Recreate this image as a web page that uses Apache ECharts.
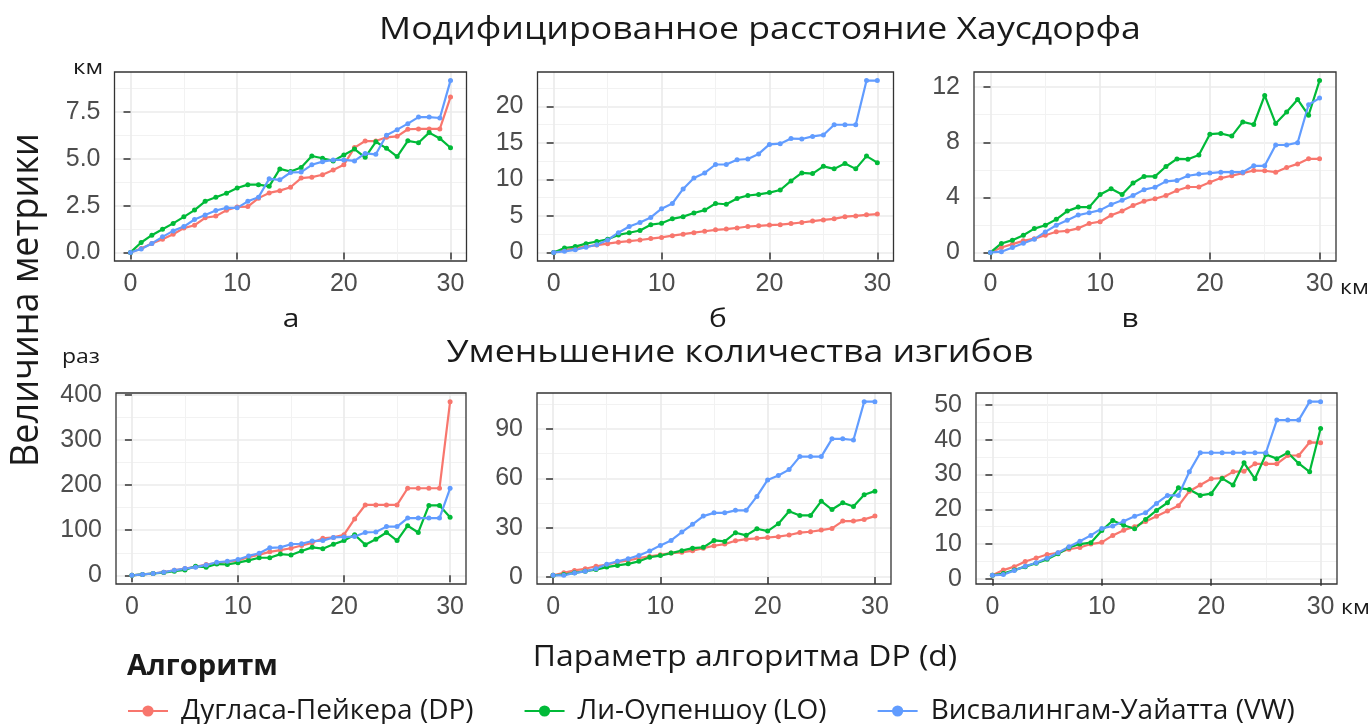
<!DOCTYPE html>
<html><head><meta charset="utf-8">
<script src="https://cdn.jsdelivr.net/npm/echarts@6/dist/echarts.min.js"></script>
<style>html,body{margin:0;padding:0;background:#fff}#c{width:1372px;height:724px}</style>
</head><body><div id="c"></div>
<script>
const xValues = [0,1,2,3,4,5,6,7,8,9,10,11,12,13,14,15,16,17,18,19,20,21,22,23,24,25,26,27,28,29,30];
const seriesNames = ['Дугласа-Пейкера (DP)', 'Ли-Оупеншоу (LO)', 'Висвалингам-Уайатта (VW)'];
const xTicks = [0, 10, 20, 30];

// Panel а — модифицированное расстояние Хаусдорфа, км
const aDP = [0,0.21,0.48,0.7,0.97,1.3,1.45,1.85,1.94,2.25,2.43,2.45,2.9,3.18,3.3,3.48,3.97,4.02,4.15,4.4,4.68,5.6,5.95,5.95,6.15,6.2,6.58,6.6,6.6,6.6,8.3];
const aLO = [0,0.53,0.92,1.24,1.55,1.9,2.26,2.73,2.95,3.16,3.44,3.62,3.62,3.53,4.46,4.32,4.54,5.15,5.03,4.89,5.2,5.52,5.08,5.91,5.56,5.12,5.96,5.86,6.4,6.09,5.59];
const aVW = [0,0.18,0.48,0.83,1.15,1.38,1.76,2.0,2.24,2.38,2.38,2.73,2.95,3.93,3.88,4.27,4.29,4.68,4.85,4.94,4.94,4.89,5.29,5.24,6.26,6.56,6.88,7.23,7.23,7.18,9.18];
const aTicks = [0, 2.5, 5, 7.5];
// Panel б
const bDP = [0,0.3,0.55,0.8,1.0,1.2,1.4,1.55,1.7,1.9,2.05,2.3,2.5,2.7,2.9,3.1,3.2,3.35,3.55,3.65,3.75,3.8,3.95,4.1,4.3,4.45,4.6,4.9,5.0,5.15,5.25];
const bLO = [0,0.6,0.8,1.2,1.5,1.8,2.4,2.7,3.0,3.8,4.0,4.6,4.9,5.4,5.8,6.7,6.6,7.4,7.8,7.95,8.2,8.55,9.8,10.9,10.8,11.8,11.45,12.2,11.45,13.2,12.3];
const bVW = [0,0.15,0.35,0.7,1.05,1.7,2.7,3.55,4.1,4.8,6.0,6.7,8.7,10.2,10.9,12.05,12.05,12.7,12.8,13.5,14.8,14.9,15.6,15.55,15.9,16.1,17.5,17.5,17.5,23.55,23.55];
const bTicks = [0, 5, 10, 15, 20];
// Panel в
const cDP = [0,0.36,0.6,0.84,1.0,1.25,1.5,1.56,1.75,2.1,2.23,2.7,3.0,3.4,3.72,3.9,4.13,4.5,4.75,4.75,5.1,5.4,5.57,5.76,5.95,5.93,5.83,6.17,6.43,6.8,6.8];
const cLO = [0,0.65,0.89,1.25,1.73,1.97,2.4,3.0,3.29,3.29,4.2,4.63,4.2,5.04,5.52,5.52,6.24,6.79,6.77,7.08,8.59,8.64,8.45,9.48,9.29,11.4,9.36,10.2,11.11,9.96,12.48];
const cVW = [0,0.05,0.36,0.67,0.96,1.49,1.97,2.33,2.71,2.88,3.07,3.48,3.79,4.13,4.56,4.73,5.16,5.23,5.57,5.69,5.76,5.83,5.83,5.83,6.29,6.29,7.8,7.8,7.97,10.73,11.21];
const cTicks = [0, 4, 8, 12];
// Уменьшение количества изгибов, раз
const dDP = [0,2,4,7,11,15,19,24,27,30,33,40,46,52,56,60,66,72,82,84,90,125,156,156,156,156,193,193,193,193,385];
const dLO = [0,2,4,6,9,12,20,18,25,24,28,33,39,39,47,45,54,62,59,69,77,90,68,80,95,77,110,95,155,155,129];
const dVW = [0,2,4,7,11,15,18,23,29,31,35,43,49,61,62,69,70,76,77,84,85,86,95,96,108,108,127,127,127,127,193];
const dTicks = [0, 100, 200, 300, 400];
const eDP = [1,2.5,4,5,6.5,7.5,9,10,11.5,12.5,13.5,14.5,15,16,17.5,19,20,22,23,23.5,24,24.5,25.5,27,27.5,28.5,29.5,34,34,35,37];
const eLO = [1,1.5,2.5,3.5,4.5,6,7,8,9.5,12,13,14.5,16,17.5,18,22.2,21.6,26.9,25.3,29.3,27.9,32.4,40,37.4,37.4,46.1,41,45.1,42.9,50,52.2];
const eVW = [1,1,2.4,3.4,5,7.7,9.5,11.1,13.1,15.8,19.2,22.2,27.3,32,37,39,39,40.5,40.5,49,59,61.7,65.3,73.2,73.2,73.2,84,84,83.3,106.6,106.6];
const eTicks = [0, 30, 60, 90];
const fDP = [1,2.5,3.5,5,6,7,7.5,8.5,9,10,10.5,12.5,14,15,16.5,18,19.5,21,25.2,27,28.8,29,30.8,31,33.1,33.1,33.1,35.5,35.5,39.3,39.2];
const fLO = [1,1.5,2.5,3.5,4.5,5.6,7.2,9,10,10.4,13.9,16.8,15.4,14.4,17.1,19.7,21.9,26.2,25.7,24,24.5,28.9,27,33.4,28.8,35.8,34.6,36.3,33.2,30.8,43.3];
const fVW = [1,1.2,2.4,3.6,4.6,5.9,7.5,9.2,10.8,12.5,14.5,15.2,16.6,18,19,21.7,24,24,30.8,36.3,36.3,36.3,36.3,36.3,36.3,36.3,45.7,45.7,45.7,51,51];
const fTicks = [0, 10, 20, 30, 40, 50];

const panels = [
  {series:[aDP,aLO,aVW], ticks:aTicks, dec:1},
  {series:[bDP,bLO,bVW], ticks:bTicks, dec:0},
  {series:[cDP,cLO,cVW], ticks:cTicks, dec:0},
  {series:[dDP,dLO,dVW], ticks:dTicks, dec:0},
  {series:[eDP,eLO,eVW], ticks:eTicks, dec:0},
  {series:[fDP,fLO,fVW], ticks:fTicks, dec:0}
];
const boxes = [
  {left:114.5, top:72, width:352, height:189},
  {left:537.5, top:72, width:356, height:189},
  {left:974, top:72, width:362, height:189},
  {left:116, top:393, width:350, height:191},
  {left:537, top:393, width:354, height:191},
  {left:976, top:393, width:361, height:191}
];
const colors = ['#F8766D', '#00BA38', '#619CFF'];

function expand(vals) {
  const lo = Math.min(...vals), hi = Math.max(...vals), d = (hi - lo) * 0.05;
  return [lo - d, hi + d];
}
function minorOf(ticks, lo, hi) {
  const step = ticks[1] - ticks[0];
  const out = [];
  const all = [ticks[0] - step].concat(ticks, [ticks[ticks.length - 1] + step]);
  for (let i = 0; i < all.length - 1; i++) {
    const m = (all[i] + all[i + 1]) / 2;
    if (m > lo && m < hi) out.push(m);
  }
  return out;
}

const grids = [], xAxes = [], yAxes = [], series = [];
const tickFont = {fontSize: 25, color: '#4D4D4D', fontFamily: 'Liberation Sans'};
const xr = expand(xValues);
const xMinor = minorOf(xTicks, xr[0], xr[1]);

panels.forEach((p, i) => {
  grids.push(Object.assign({show: true, borderColor: '#333333', borderWidth: 1.3, backgroundColor: 'transparent', z: 3}, boxes[i]));
  const yr = expand([].concat(...p.series));
  const yMinor = minorOf(p.ticks, yr[0], yr[1]);
  xAxes.push({gridIndex: i, type: 'value', min: xr[0], max: xr[1], position: 'bottom',
    axisLine: {show: false},
    axisTick: {show: true, customValues: xTicks, length: 7, lineStyle: {color: '#333333', width: 1.5}},
    axisLabel: Object.assign({customValues: xTicks, margin: 11}, tickFont),
    splitLine: {show: true, lineStyle: {color: '#EBEBEB', width: 1.7}}});
  xAxes.push({gridIndex: i, type: 'value', min: xr[0], max: xr[1], position: 'top',
    axisLine: {show: false}, axisTick: {show: false, customValues: xMinor}, axisLabel: {show: false},
    splitLine: {show: true, lineStyle: {color: '#F2F2F2', width: 1}}});
  yAxes.push({gridIndex: i, type: 'value', min: yr[0], max: yr[1], position: 'left',
    axisLine: {show: false},
    axisTick: {show: true, customValues: p.ticks, length: 7, lineStyle: {color: '#333333', width: 1.5}},
    axisLabel: Object.assign({customValues: p.ticks, margin: 14, formatter: v => Number(v).toFixed(p.dec)}, tickFont),
    splitLine: {show: true, lineStyle: {color: '#EBEBEB', width: 1.7}}});
  yAxes.push({gridIndex: i, type: 'value', min: yr[0], max: yr[1], position: 'right',
    axisLine: {show: false}, axisTick: {show: false, customValues: yMinor}, axisLabel: {show: false},
    splitLine: {show: true, lineStyle: {color: '#F2F2F2', width: 1}}});
  p.series.forEach((arr, k) => {
    series.push({type: 'line', name: seriesNames[k], xAxisIndex: 2 * i, yAxisIndex: 2 * i,
      data: xValues.map((x, j) => [x, arr[j]]),
      symbol: 'circle', symbolSize: 5, showSymbol: true, z: 2,
      lineStyle: {width: 2.2, color: colors[k]}, itemStyle: {color: colors[k]},
      emphasis: {disabled: true}, animation: false});
  });
});

function txt(text, x, y, size, opts) {
  opts = opts || {};
  return {type: 'text', x: x, y: y, rotation: opts.rot || 0, scaleX: opts.sx || 1, scaleY: opts.sy || 1, z: 10,
    style: {text: text, fill: opts.color || '#1A1A1A', fontSize: size, fontFamily: opts.font || 'Open Sans',
      fontWeight: opts.bold ? 'bold' : 'normal',
      textAlign: opts.align || 'center', textVerticalAlign: 'middle'}};
}

const option = {
  backgroundColor: '#ffffff',
  animation: false,
  color: colors,
  grid: grids, xAxis: xAxes, yAxis: yAxes, series: series,
  legend: {data: seriesNames, left: 122, top: 692, itemWidth: 40, itemHeight: 14, itemGap: 50,
    textStyle: {fontSize: 28, color: '#1A1A1A', fontFamily: 'Open Sans', padding: [0, 0, 0, 8]}},
  graphic: [
    txt('Модифицированное расстояние Хаусдорфа', 760, 30, 31, {sx: 1.15}),
    txt('Уменьшение количества изгибов', 740, 353, 31, {sx: 1.15}),
    txt('Величина метрики', 27, 300, 36, {rot: Math.PI / 2, sy: 1.08}),
    txt('км', 73, 68, 20, {align: 'left', sx: 1.2}),
    txt('раз', 62, 357, 20, {align: 'left', sx: 1.15}),
    txt('км', 1340, 288, 20, {align: 'left', sx: 1.15}),
    txt('км', 1341, 608, 20, {align: 'left', sx: 1.15}),
    txt('а', 291, 320, 26, {sx: 1.15}),
    txt('б', 718, 320, 26, {sx: 1.15}),
    txt('в', 1130, 320, 26, {sx: 1.15}),
    txt('Параметр алгоритма DP (d)', 745, 658, 29, {sx: 1.1}),
    txt('Алгоритм', 127, 667, 28, {align: 'left', bold: true, sx: 1.04})
  ]
};
const chart = echarts.init(document.getElementById('c'));
chart.setOption(option);
</script></body></html>
